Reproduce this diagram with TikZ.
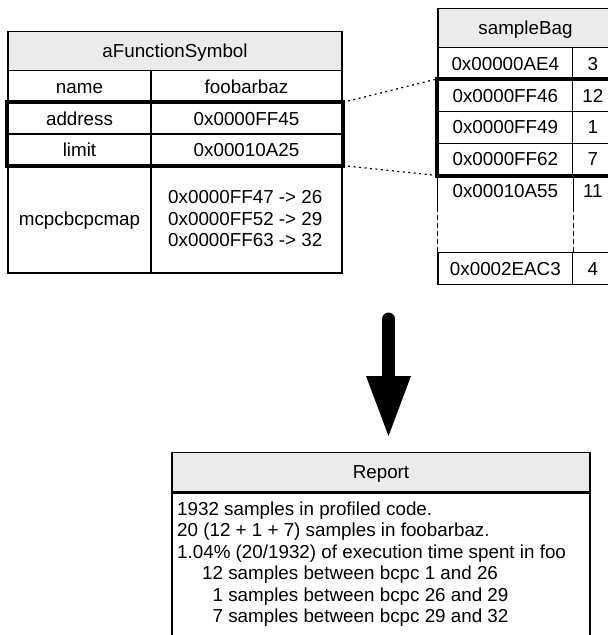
\documentclass[tikz,border=0pt]{standalone}
\usepackage{fontspec}
\setmainfont{Liberation Sans}
\definecolor{hdgray}{HTML}{EBEBEB}
\begin{document}
\begin{tikzpicture}[x=1pt,y=-1pt,
  cell/.style={draw, line width=1.2pt, inner sep=0pt, text height=13.4pt, text depth=0pt,
    font=\fontsize{18.8}{21.6}\selectfont},
  head/.style={cell, fill=hdgray},
  txt/.style={inner sep=0pt, anchor=base west, font=\fontsize{18.8}{21.6}\selectfont},
  thickbox/.style={line width=4pt},
  link/.style={line width=1.2pt, dash pattern=on 2pt off 3.5pt},
  gap/.style={line width=1.2pt, dash pattern=on 5pt off 3pt}]
\begin{scope}
\clip (0,0) rectangle (608,635);
% left table
\node[head, minimum width=334pt, minimum height=39.2pt] (fshead) at (175,51.1) {aFunctionSymbol};
\node[cell, minimum width=143pt, minimum height=32.3pt] (namek) at (79.5,86.85) {name};
\node[cell, minimum width=191pt, minimum height=32.3pt] (namev) at (246.5,86.85) {foobarbaz};
\node[cell, minimum width=143pt, minimum height=31pt] (addrk) at (79.5,118.5) {address};
\node[cell, minimum width=191pt, minimum height=31pt] (addrv) at (246.5,118.5) {0x0000FF45};
\node[cell, minimum width=143pt, minimum height=31pt] (limk) at (79.5,149.5) {limit};
\node[cell, minimum width=191pt, minimum height=31pt] (limv) at (246.5,149.5) {0x00010A25};
\node[cell, minimum width=143pt, minimum height=108pt] (mapk) at (79.5,219) {mcpcbcpcmap};
\node[cell, minimum width=191pt, minimum height=108pt] (mapv) at (246.5,219) {};
\node[txt] (map1) at (168,203.3) {0x0000FF47 -> 26};
\node[txt] (map2) at (168,225) {0x0000FF52 -> 29};
\node[txt] (map3) at (168,246.6) {0x0000FF63 -> 32};
\draw[thickbox] (addrk.north west) rectangle (limv.south east);
% right table
\node[head, minimum width=175pt, minimum height=39.4pt] (sbhead) at (525.5,28) {sampleBag};
\node[cell, minimum width=134.7pt, minimum height=31.8pt] (r1a) at (505.35,63.6) {0x00000AE4};
\node[cell, minimum width=40.3pt, minimum height=31.8pt] (r1b) at (592.85,63.6) {3};
\node[cell, minimum width=134.7pt, minimum height=31.8pt] (r2a) at (505.35,95.4) {0x0000FF46};
\node[cell, minimum width=40.3pt, minimum height=31.8pt] (r2b) at (592.85,95.4) {12};
\node[cell, minimum width=134.7pt, minimum height=31.8pt] (r3a) at (505.35,127.2) {0x0000FF49};
\node[cell, minimum width=40.3pt, minimum height=31.8pt] (r3b) at (592.85,127.2) {1};
\node[cell, minimum width=134.7pt, minimum height=31.8pt] (r4a) at (505.35,159) {0x0000FF62};
\node[cell, minimum width=40.3pt, minimum height=31.8pt] (r4b) at (592.85,159) {7};
\node[cell, draw=none, minimum width=134.7pt, minimum height=31.8pt] (r5a) at (505.35,190.8) {0x00010A55};
\node[cell, draw=none, minimum width=40.3pt, minimum height=31.8pt] (r5b) at (592.85,190.8) {11};
\draw[line width=1.2pt] (r5a.north west) -- (r5a.south west)
  (r5a.north east) -- (r5a.south east) (r5b.north east) -- (r5b.south east);
\node[cell, minimum width=134.7pt, minimum height=31.8pt] (r6a) at (505.35,268.6) {0x0002EAC3};
\node[cell, minimum width=40.3pt, minimum height=31.8pt] (r6b) at (592.85,268.6) {4};
\draw[gap] (r5a.south west) -- (r6a.north west)
  (r5a.south east) -- (r6a.north east) (r5b.south east) -- (r6b.north east);
\draw[thickbox] (r2a.north west) rectangle (r4b.south east);
% links
\draw[link] (addrv.north east) -- (r2a.north west);
\draw[link] (limv.south east) -- (r4a.south west);
% arrow
\coordinate (atop) at (388.5,319);
\coordinate (abot) at (388.5,378);
\coordinate (hl) at (366,376);
\coordinate (hr) at (411,376);
\coordinate (htip) at (388.5,436);
\draw[line width=13pt, line cap=round] (atop) -- (abot);
\fill (hl) -- (hr) -- (htip) -- cycle;
% report
\node[head, minimum width=418pt, minimum height=39.4pt] (rephead) at (381,472) {Report};
\node[cell, minimum width=418pt, minimum height=180pt, anchor=north] (repbody) at (rephead.south) {};
\node[txt] (l1) at (177,515.5) {1932 samples in profiled code.};
\node[txt] (l2) at (177,536.9) {20 (12 + 1 + 7) samples in foobarbaz.};
\node[txt] (l3) at (177,558.3) {1.04\% (20/1932) of execution time spent in foo};
\node[txt] (l4) at (202,579.7) {12 samples between bcpc 1 and 26};
\node[txt] (l5) at (202,601.1) {\phantom{1}1 samples between bcpc 26 and 29};
\node[txt] (l6) at (202,622.5) {\phantom{1}7 samples between bcpc 29 and 32};
\end{scope}
\pgfresetboundingbox
\useasboundingbox (0,0) rectangle (608,635);
\end{tikzpicture}
\end{document}
